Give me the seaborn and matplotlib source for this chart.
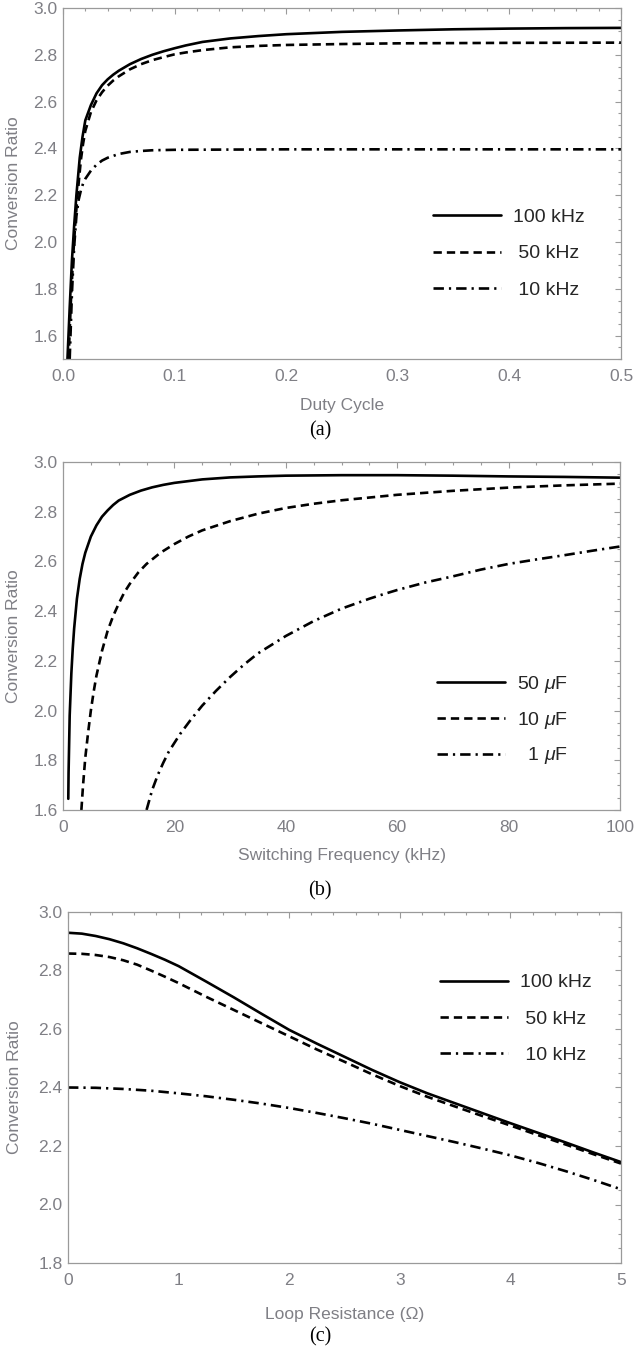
import numpy as np
import pandas as pd
import matplotlib
matplotlib.use("Agg")
import matplotlib.pyplot as plt
import seaborn as sns
from matplotlib.ticker import MultipleLocator, FormatStrFormatter

# ---------------- data ----------------
# (a) Conversion ratio vs duty cycle
duty_100k = [0.004, 0.006, 0.008, 0.010, 0.012, 0.015, 0.0175, 0.02, 0.025, 0.03, 0.035, 0.04,
             0.045, 0.05, 0.06, 0.07, 0.08, 0.09, 0.10, 0.11, 0.125, 0.15, 0.175, 0.2, 0.25,
             0.3, 0.35, 0.4, 0.45, 0.5]
ratio_a_100k = [1.50, 1.72, 1.92, 2.07, 2.20, 2.36, 2.45, 2.52, 2.585, 2.635, 2.67, 2.695,
                2.715, 2.732, 2.76, 2.782, 2.80, 2.815, 2.828, 2.84, 2.855, 2.87, 2.88, 2.888,
                2.898, 2.904, 2.909, 2.912, 2.914, 2.915]
duty_50k = [0.005, 0.007, 0.009, 0.011, 0.013, 0.016, 0.018, 0.02, 0.025, 0.03, 0.035, 0.04,
            0.045, 0.05, 0.06, 0.07, 0.08, 0.09, 0.10, 0.11, 0.125, 0.15, 0.175, 0.2, 0.25,
            0.3, 0.4, 0.5]
ratio_a_50k = [1.50, 1.74, 1.93, 2.08, 2.20, 2.35, 2.42, 2.475, 2.555, 2.605, 2.64, 2.668,
               2.69, 2.708, 2.738, 2.76, 2.777, 2.79, 2.802, 2.81, 2.82, 2.832, 2.838, 2.842,
               2.846, 2.849, 2.851, 2.852]
duty_10k = [0.006, 0.008, 0.010, 0.012, 0.014, 0.016, 0.018, 0.02, 0.025, 0.03, 0.035, 0.04,
            0.05, 0.06, 0.07, 0.08, 0.1, 0.15, 0.2, 0.3, 0.4, 0.5]
ratio_a_10k = [1.50, 1.78, 1.98, 2.11, 2.18, 2.22, 2.25, 2.27, 2.305, 2.33, 2.348, 2.36,
               2.376, 2.385, 2.389, 2.392, 2.394, 2.395, 2.396, 2.396, 2.396, 2.396]
labels_a = ["100 kHz", " 50 kHz", " 10 kHz"]

# (b) Conversion ratio vs switching frequency
freq_50u = [0.95, 1.0, 1.2, 1.5, 1.75, 2, 2.5, 3, 3.5, 4, 5, 6, 7, 8, 9, 10, 12, 14, 16, 18,
            20, 25, 30, 35, 40, 50, 60, 70, 80, 90, 100]
ratio_b_50u = [1.645, 1.75, 1.98, 2.15, 2.25, 2.33, 2.45, 2.53, 2.59, 2.635, 2.70, 2.745,
               2.78, 2.805, 2.827, 2.845, 2.868, 2.885, 2.898, 2.908, 2.916, 2.93, 2.938,
               2.942, 2.945, 2.947, 2.947, 2.945, 2.942, 2.940, 2.937]
freq_10u = [3.3, 3.6, 4, 4.5, 5, 5.5, 6, 7, 8, 9, 10, 11, 12, 13.5, 15, 17.5, 20, 22.5, 25, 30,
            35, 40, 45, 50, 60, 70, 80, 90, 100]
ratio_b_10u = [1.60, 1.70, 1.81, 1.91, 2.00, 2.075, 2.14, 2.24, 2.32, 2.38, 2.43, 2.475, 2.51,
               2.555, 2.59, 2.635, 2.67, 2.70, 2.725, 2.762, 2.792, 2.815, 2.832, 2.846, 2.868,
               2.884, 2.897, 2.906, 2.913]
freq_1u = [15, 16, 17, 18, 19, 20, 21, 23, 25, 27.5, 30, 32.5, 35, 37.5, 40, 42.5, 45, 47.5, 50,
           52.5, 55, 57.5, 60, 65, 70, 75, 80, 85, 90, 95, 100]
ratio_b_1u = [1.60, 1.68, 1.74, 1.79, 1.835, 1.87, 1.905, 1.965, 2.02, 2.08, 2.135, 2.185,
              2.23, 2.265, 2.30, 2.33, 2.36, 2.385, 2.41, 2.43, 2.45, 2.468, 2.485, 2.515,
              2.54, 2.567, 2.59, 2.608, 2.625, 2.643, 2.66]
labels_b = ["50 $\\mu$F", "10 $\\mu$F", "  1 $\\mu$F"]

# (c) Conversion ratio vs loop resistance
res_c = [0, 0.125, 0.25, 0.375, 0.5, 0.625, 0.75, 0.875, 1.0, 1.25, 1.5, 1.75, 2.0, 2.25, 2.5,
         2.75, 3.0, 3.25, 3.5, 3.75, 4.0, 4.25, 4.5, 4.75, 5.0]
ratio_c_100k = [2.929, 2.926, 2.918, 2.907, 2.893, 2.876, 2.857, 2.837, 2.815, 2.762, 2.708,
                2.652, 2.597, 2.55, 2.505, 2.46, 2.418, 2.38, 2.346, 2.312, 2.278, 2.245,
                2.212, 2.178, 2.145]
ratio_c_50k = [2.858, 2.857, 2.853, 2.846, 2.835, 2.82, 2.80, 2.779, 2.757, 2.71, 2.665, 2.62,
               2.575, 2.53, 2.488, 2.445, 2.405, 2.368, 2.335, 2.302, 2.27, 2.237, 2.205,
               2.172, 2.14]
res_c10 = [0, 0.25, 0.5, 0.75, 1.0, 1.25, 1.5, 1.75, 2.0, 2.25, 2.5, 2.75, 3.0, 3.25, 3.5,
           3.75, 4.0, 4.25, 4.5, 4.75, 5.0]
ratio_c_10k = [2.400, 2.399, 2.395, 2.389, 2.380, 2.37, 2.358, 2.345, 2.330, 2.313, 2.295,
               2.276, 2.255, 2.234, 2.213, 2.191, 2.168, 2.142, 2.114, 2.084, 2.052]
labels_c = ["100 kHz", " 50 kHz", " 10 kHz"]

# ---------------- style ----------------
sns.set_style("white")
plt.rcParams["font.family"] = ["Liberation Sans", "DejaVu Sans"]
plt.rcParams["mathtext.fontset"] = "custom"
plt.rcParams["mathtext.rm"] = "Liberation Sans"
plt.rcParams["mathtext.it"] = "Liberation Sans:italic"
plt.rcParams["lines.scale_dashes"] = False

GRAY_TXT = "#7f7f85"
GRAY_AX = "#9a9a9a"
STY_SOLID = "-"
STY_DASH = (0, (6.0, 3.6))
STY_DASHDOT = (0, (7.5, 3.6, 1.6, 3.6))
LW = 1.9

W, H = 634, 1354
fig = plt.figure(figsize=(W / 100, H / 100), dpi=100)


def rect(l, r, t, b):
    return [l / W, 1 - b / H, (r - l) / W, (b - t) / H]


def style_axes(ax, xmaj, xmin, ymaj, ymin, xfmt, yfmt):
    for s in ax.spines.values():
        s.set_color(GRAY_AX)
        s.set_linewidth(0.9)
    ax.xaxis.set_major_locator(MultipleLocator(xmaj))
    ax.xaxis.set_minor_locator(MultipleLocator(xmin))
    ax.yaxis.set_major_locator(MultipleLocator(ymaj))
    ax.yaxis.set_minor_locator(MultipleLocator(ymin))
    ax.xaxis.set_major_formatter(FormatStrFormatter(xfmt))
    ax.yaxis.set_major_formatter(FormatStrFormatter(yfmt))
    ax.tick_params(which="both", direction="in", top=True, right=True, color=GRAY_AX,
                   width=0.8, labelcolor=GRAY_TXT, labelsize=12.5)
    ax.tick_params(which="major", length=4.2)
    ax.tick_params(which="minor", length=2.3)
    ax.tick_params(axis="x", which="major", pad=7)
    ax.tick_params(axis="y", which="major", pad=4)


def draw(ax, xs, ys, labels):
    styles = [STY_SOLID, STY_DASH, STY_DASHDOT]
    for x, y, lab, st in zip(xs, ys, labels, styles):
        df = pd.DataFrame({"x": x, "y": y})
        sns.lineplot(data=df, x="x", y="y", ax=ax, color="black", linestyle=st,
                     linewidth=LW, label=lab, sort=True, legend=False)


def legend(ax, x, y, spacing):
    h, l = ax.get_legend_handles_labels()
    ax.legend(h, l, loc="upper left", bbox_to_anchor=(x, y), frameon=False,
              fontsize=14, handlelength=3.5, handletextpad=0.6, labelspacing=spacing,
              borderpad=0, borderaxespad=0)


# ---- (a) ----
axa = fig.add_axes(rect(63, 621, 8, 359))
draw(axa, [duty_100k, duty_50k, duty_10k], [ratio_a_100k, ratio_a_50k, ratio_a_10k], labels_a)
axa.set_xlim(0, 0.5)
axa.set_ylim(1.5, 3.0)
style_axes(axa, 0.1, 0.02, 0.2, 0.05, "%.1f", "%.1f")
axa.set_xlabel("Duty Cycle", fontsize=12.5, color=GRAY_TXT)
axa.set_ylabel("Conversion Ratio", fontsize=12.5, color=GRAY_TXT)
axa.xaxis.set_label_coords(0.5, -0.11)
axa.yaxis.set_label_coords(-0.075, 0.5)
legend(axa, 0.663, 0.429, 0.96)

# ---- (b) ----
axb = fig.add_axes(rect(63, 620, 462, 810))
draw(axb, [freq_50u, freq_10u, freq_1u], [ratio_b_50u, ratio_b_10u, ratio_b_1u], labels_b)
axb.set_xlim(0, 100)
axb.set_ylim(1.6, 3.0)
style_axes(axb, 20, 5, 0.2, 0.05, "%d", "%.1f")
axb.set_xlabel("Switching Frequency (kHz)", fontsize=12.5, color=GRAY_TXT)
axb.set_ylabel("Conversion Ratio", fontsize=12.5, color=GRAY_TXT)
axb.xaxis.set_label_coords(0.5, -0.11)
axb.yaxis.set_label_coords(-0.075, 0.5)
legend(axb, 0.672, 0.391, 0.76)

# ---- (c) ----
axc = fig.add_axes(rect(68, 621, 912, 1263))
draw(axc, [res_c, res_c, res_c10], [ratio_c_100k, ratio_c_50k, ratio_c_10k], labels_c)
axc.set_xlim(0, 5)
axc.set_ylim(1.8, 3.0)
style_axes(axc, 1, 0.2, 0.2, 0.05, "%d", "%.1f")
axc.set_xlabel("Loop Resistance (\u03a9)", fontsize=12.5, color=GRAY_TXT)
axc.set_ylabel("Conversion Ratio", fontsize=12.5, color=GRAY_TXT)
axc.xaxis.set_label_coords(0.5, -0.125)
axc.yaxis.set_label_coords(-0.083, 0.5)
legend(axc, 0.673, 0.824, 0.96)

# captions
for txt, yy in [("(a)", 431), ("(b)", 891), ("(c)", 1337)]:
    fig.text(320 / W, 1 - yy / H, txt, ha="center", va="center", fontsize=14.5,
             family=["Liberation Serif", "DejaVu Serif"], color="black")

fig.savefig("out.png", dpi=100)
